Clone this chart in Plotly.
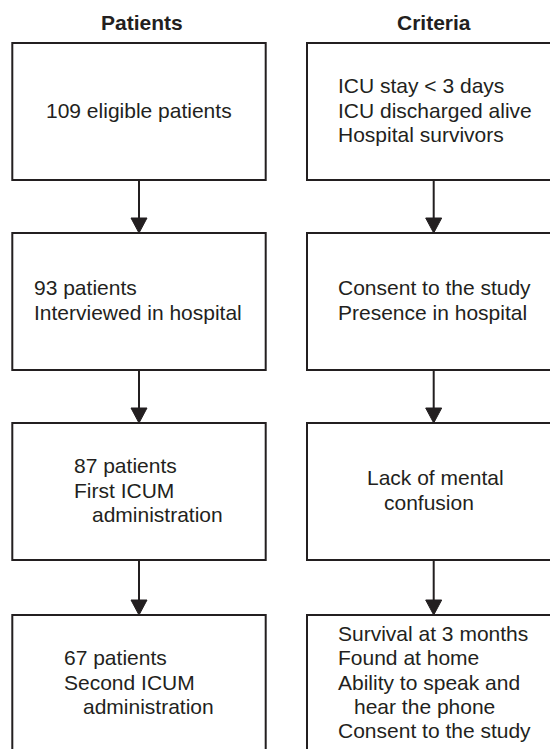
import plotly.graph_objects as go

# ---- data (text content) ----
column_titles = ["Patients", "Criteria"]
patient_steps = [
    ["109 eligible patients"],
    ["93 patients", "Interviewed in hospital"],
    ["87 patients", "First ICUM", "administration"],
    ["67 patients", "Second ICUM", "administration"],
]
criteria_steps = [
    ["ICU stay < 3 days", "ICU discharged alive", "Hospital survivors"],
    ["Consent to the study", "Presence in hospital"],
    ["Lack of mental", "confusion"],
    ["Survival at 3 months", "Found at home", "Ability to speak and",
     "hear the phone", "Consent to the study"],
]

# ---- layout (pixel geometry, in page coordinates) ----
W, H = 558, 749
OFF = 8  # page body margin: figure origin sits at (8, 8)
row_tops = [43, 233, 423, 615]
box_h = 137
col_x = [(12.3, 265.7), (307, 560)]
title_x = [142, 434]
title_y = 22
line_gap = 24.3
patient_x = [[45], [33, 33], [73, 73, 91], [63, 63, 82]]
criteria_x = [[337, 337, 337], [337, 337], [366, 383], [337, 337, 337, 353, 337]]
INK = "#231f20"
FONT = "Liberation Sans, Arial, Helvetica, sans-serif"
FS = 21

fig = go.Figure()
shapes = []
annotations = []
box_w = col_x[0][1] - col_x[0][0]

for c, (steps, xs) in enumerate([(patient_steps, patient_x), (criteria_steps, criteria_x)]):
    x0, x1 = col_x[c]
    xc = x0 + box_w / 2
    annotations.append(dict(x=title_x[c], y=title_y, text="<b>%s</b>" % column_titles[c],
                            xref="x", yref="y", showarrow=False, xanchor="center",
                            yanchor="middle", font=dict(family=FONT, size=FS, color=INK),
                            borderpad=0))
    for r, lines in enumerate(steps):
        top = row_tops[r]
        shapes.append(dict(type="rect", xref="x", yref="y", x0=x0, x1=x1,
                           y0=top, y1=top + box_h,
                           line=dict(color=INK, width=2), fillcolor="rgba(0,0,0,0)"))
        center = top + box_h / 2 - 1.5
        n = len(lines)
        for i, t in enumerate(lines):
            y = center + (i - (n - 1) / 2) * line_gap
            annotations.append(dict(x=xs[r][i], y=y, text=t, xref="x", yref="y",
                                    showarrow=False, xanchor="left", yanchor="middle",
                                    font=dict(family=FONT, size=FS, color=INK),
                                    borderpad=0))
        if r < len(steps) - 1:
            y_start = top + box_h
            y_tip = row_tops[r + 1]
            head = 15
            shapes.append(dict(type="line", xref="x", yref="y", x0=xc, x1=xc,
                               y0=y_start, y1=y_tip - head + 1,
                               line=dict(color=INK, width=2)))
            shapes.append(dict(type="path", xref="x", yref="y",
                               path="M %f %f L %f %f L %f %f Z" % (xc - 8, y_tip - head,
                                                                  xc + 8, y_tip - head,
                                                                  xc, y_tip),
                               fillcolor=INK, line=dict(color=INK, width=1)))

fig.update_layout(
    width=W - OFF, height=H - OFF,
    margin=dict(l=0, r=0, t=0, b=0),
    paper_bgcolor="white", plot_bgcolor="white",
    xaxis=dict(range=[OFF, W], visible=False, fixedrange=True),
    yaxis=dict(range=[H, OFF], visible=False, fixedrange=True),
    shapes=shapes, annotations=annotations, showlegend=False,
)
fig.write_html("out.html", config={"displayModeBar": False})
